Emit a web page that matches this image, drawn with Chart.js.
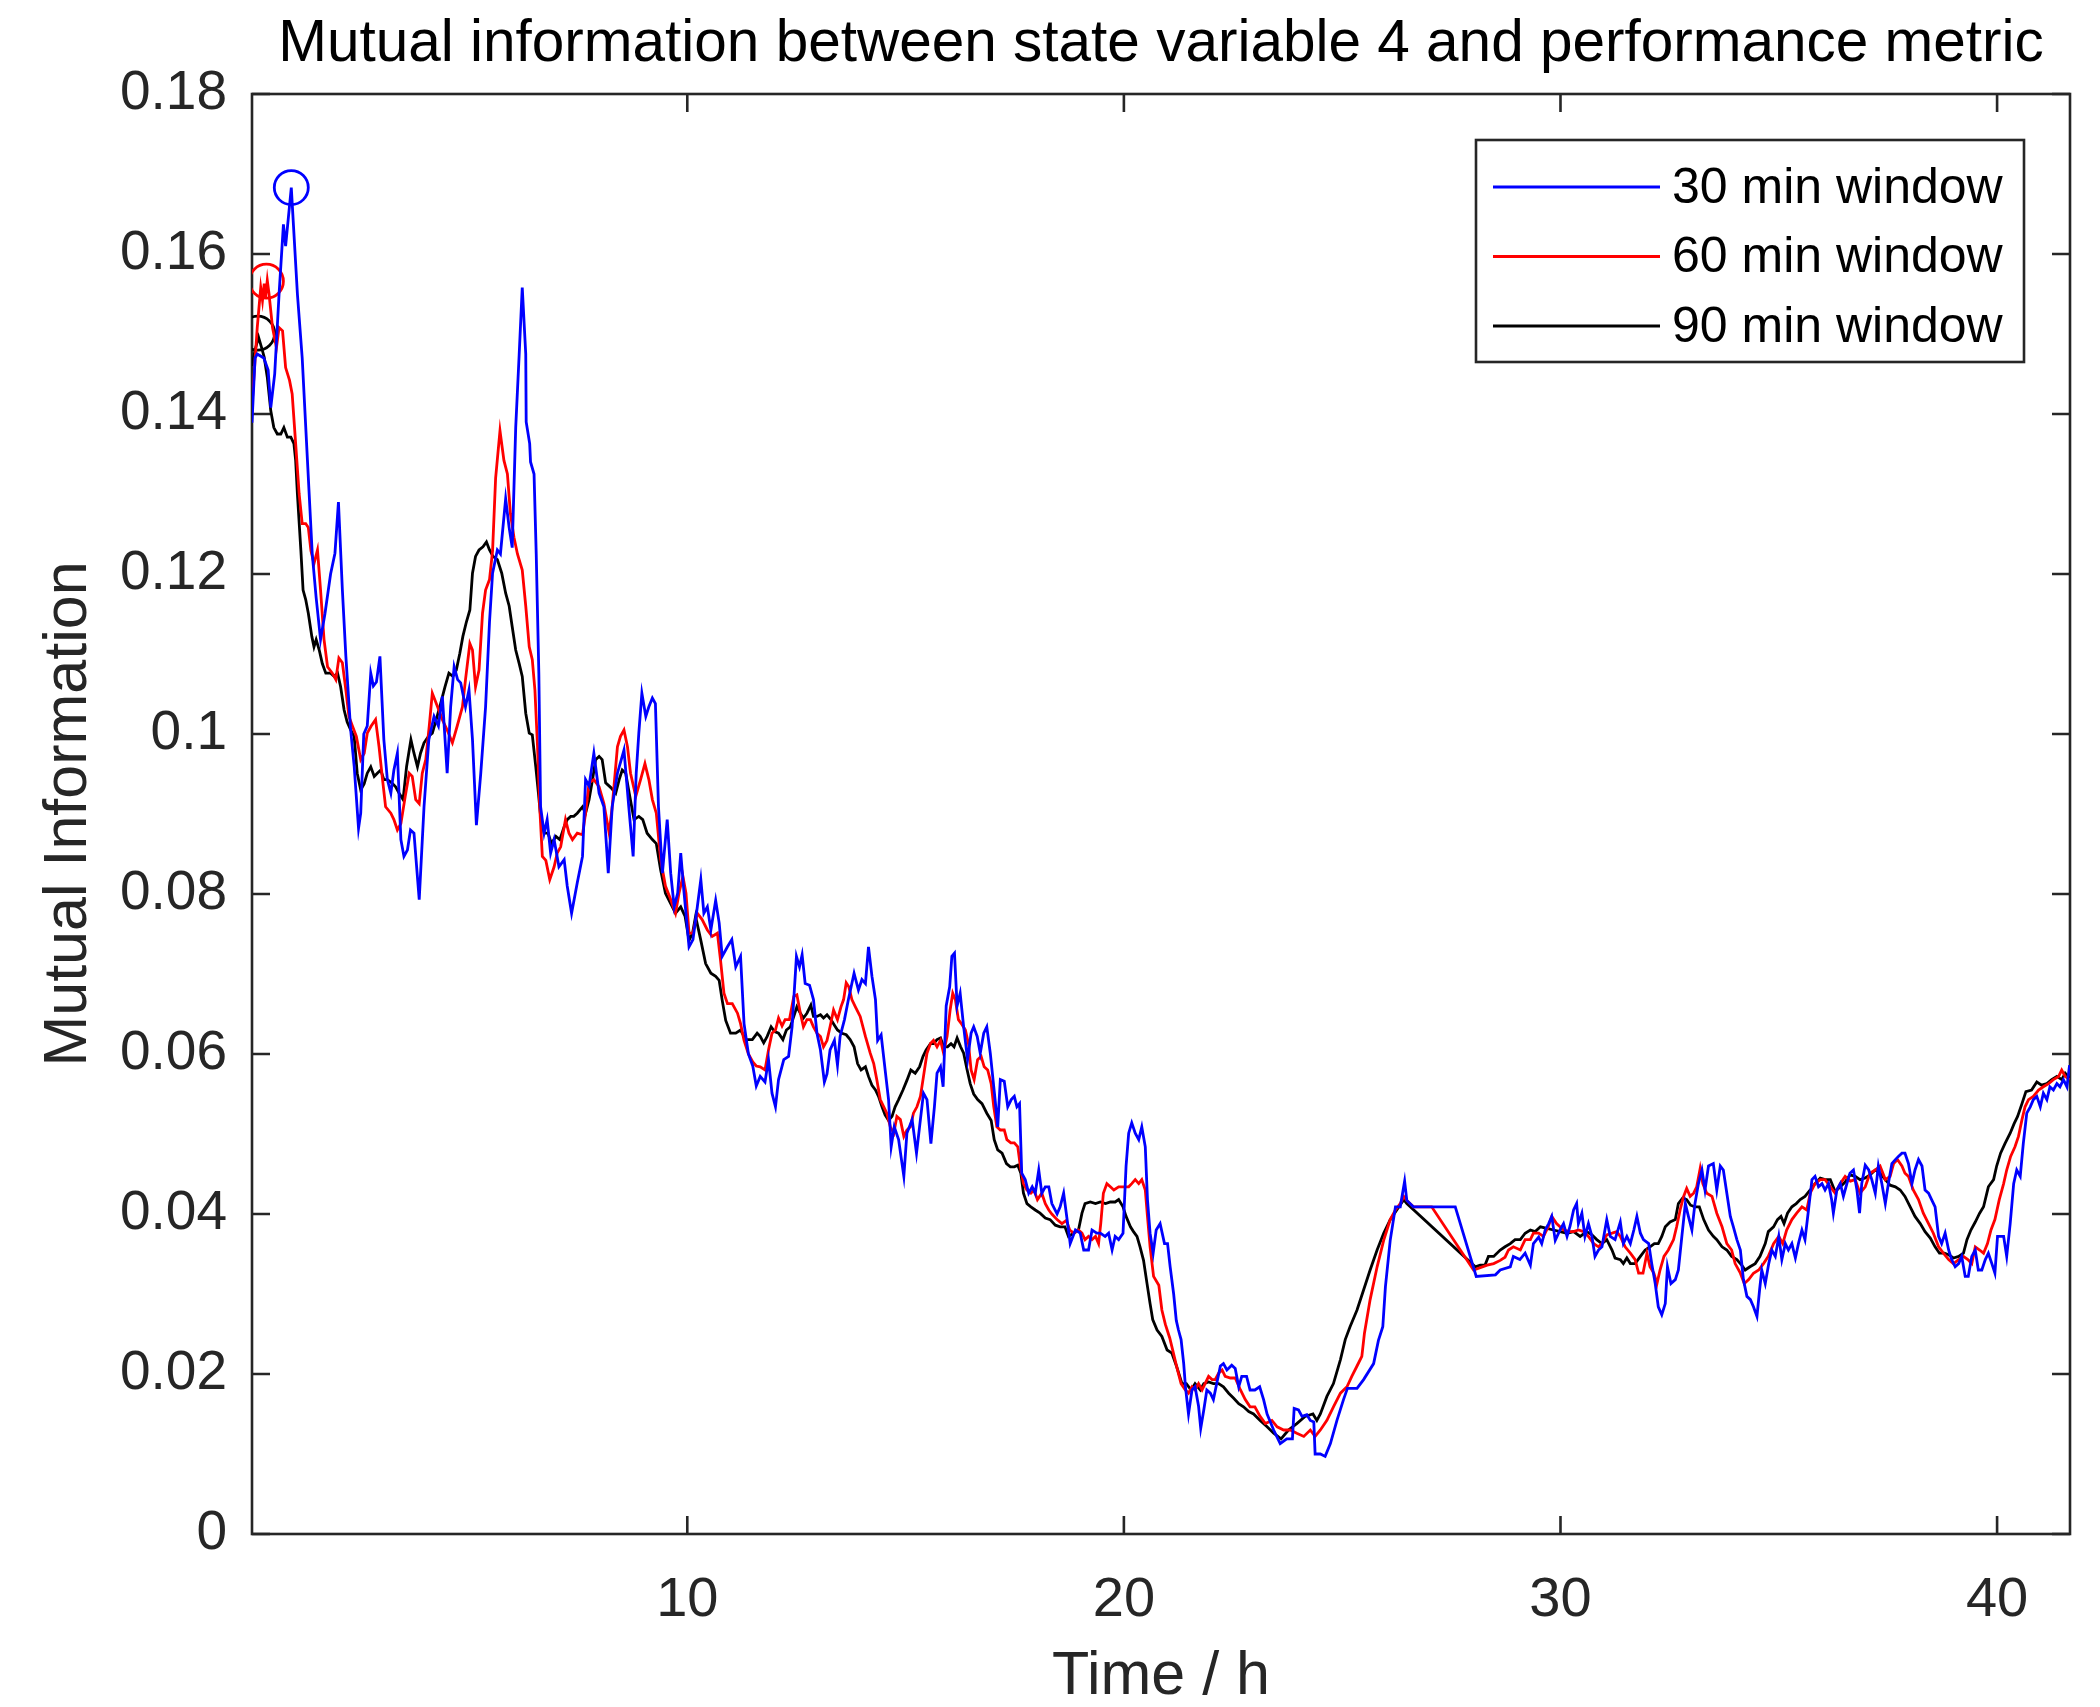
<!DOCTYPE html>
<html>
<head>
<meta charset="utf-8">
<script src="https://cdn.jsdelivr.net/npm/chart.js@4.4.1/dist/chart.umd.min.js"></script>
<style>
  html, body { margin: 0; padding: 0; background: #fff; }
  canvas { display: block; }
</style>
</head>
<body>
<canvas id="chart" width="2100" height="1707"></canvas>
<script>
const FONT = '"Liberation Sans", Arial, Helvetica, sans-serif';
const AXIS_COLOR = '#262626';

const titleText = 'Mutual information between state variable 4 and performance metric';
const xTitle = 'Time / h';
const yTitle = 'Mutual Information';
const xTicks = [10, 20, 30, 40];
const yTicks = [0, 0.02, 0.04, 0.06, 0.08, 0.1, 0.12, 0.14, 0.16, 0.18];
const seriesLabels = ['30 min window', '60 min window', '90 min window'];
const seriesColors = ['#0000ff', '#ff0000', '#000000'];

// [time in h, mutual information]
const win30 = [
  [0.03,0.1389],[0.10,0.1470],[0.15,0.1475],[0.30,0.1470],[0.40,0.1455],[0.46,0.1408],[0.55,0.1450],[0.65,0.1550],
  [0.75,0.1637],[0.80,0.1610],[0.93,0.1683],[1.07,0.1550],[1.18,0.1470],[1.30,0.1342],[1.41,0.1225],[1.50,0.1170],
  [1.60,0.1118],[1.70,0.1150],[1.83,0.1200],[1.93,0.1226],[2.01,0.1290],[2.10,0.1180],[2.18,0.1097],[2.29,0.1005],
  [2.37,0.0960],[2.47,0.0882],[2.52,0.0901],[2.59,0.1000],[2.67,0.1010],[2.75,0.1076],[2.81,0.1060],[2.88,0.1065],
  [2.96,0.1097],[3.05,0.0993],[3.13,0.0943],[3.21,0.0926],[3.28,0.0955],[3.36,0.0976],[3.44,0.0868],[3.51,0.0847],
  [3.59,0.0855],[3.66,0.0880],[3.74,0.0876],[3.86,0.0793],[3.97,0.0909],[4.08,0.0993],[4.20,0.1022],[4.30,0.1010],
  [4.39,0.1047],[4.50,0.0951],[4.58,0.1034],[4.66,0.1084],[4.74,0.1068],[4.81,0.1064],[4.92,0.1034],[5.00,0.1055],
  [5.08,0.0993],[5.17,0.0886],[5.27,0.0951],[5.38,0.1034],[5.47,0.1140],[5.54,0.1201],[5.65,0.1230],[5.72,0.1225],
  [5.84,0.1294],[5.92,0.1258],[5.99,0.1233],[6.07,0.1383],[6.15,0.1475],[6.22,0.1558],[6.30,0.1475],[6.31,0.1390],
  [6.39,0.1363],[6.41,0.1340],[6.49,0.1325],[6.54,0.1225],[6.60,0.1076],[6.64,0.0909],[6.72,0.0876],[6.79,0.0893],
  [6.87,0.0851],[6.95,0.0868],[7.06,0.0834],[7.18,0.0843],[7.25,0.0810],[7.35,0.0776],[7.48,0.0814],[7.60,0.0847],
  [7.67,0.0943],[7.75,0.0935],[7.86,0.0976],[7.98,0.0926],[8.09,0.0909],[8.19,0.0826],[8.28,0.0909],[8.40,0.0951],
  [8.55,0.0980],[8.66,0.0909],[8.76,0.0847],[8.83,0.0951],[8.89,0.1001],[8.96,0.1051],[9.05,0.1022],[9.12,0.1034],
  [9.20,0.1045],[9.27,0.1038],[9.34,0.0909],[9.43,0.0826],[9.54,0.0893],[9.62,0.0826],[9.70,0.0784],[9.78,0.0801],
  [9.85,0.0851],[9.92,0.0805],[10.04,0.0734],[10.13,0.0743],[10.23,0.0784],[10.31,0.0818],[10.38,0.0776],[10.46,0.0784],
  [10.54,0.0755],[10.65,0.0792],[10.73,0.0764],[10.80,0.0722],[10.92,0.0734],[11.02,0.0743],[11.11,0.0709],[11.22,0.0722],
  [11.30,0.0638],[11.40,0.0600],[11.50,0.0585],[11.58,0.0560],[11.67,0.0572],[11.78,0.0565],[11.86,0.0593],[11.94,0.0551],
  [12.02,0.0534],[12.09,0.0568],[12.21,0.0593],[12.32,0.0597],[12.40,0.0634],[12.50,0.0722],[12.57,0.0709],[12.63,0.0724],
  [12.70,0.0688],[12.80,0.0686],[12.89,0.0668],[12.97,0.0626],[13.05,0.0605],[13.14,0.0565],[13.20,0.0575],[13.27,0.0605],
  [13.37,0.0617],[13.44,0.0586],[13.50,0.0622],[13.60,0.0643],[13.69,0.0668],[13.82,0.0701],[13.92,0.0680],[14.00,0.0693],
  [14.08,0.0688],[14.15,0.0734],[14.23,0.0697],[14.31,0.0668],[14.36,0.0617],[14.44,0.0624],[14.54,0.0576],[14.61,0.0543],
  [14.67,0.0484],[14.74,0.0509],[14.84,0.0493],[14.96,0.0447],[15.03,0.0501],[15.15,0.0518],[15.25,0.0476],[15.32,0.0509],
  [15.41,0.0551],[15.49,0.0543],[15.58,0.0488],[15.66,0.0534],[15.72,0.0576],[15.80,0.0584],[15.86,0.0559],[15.93,0.0660],
  [16.01,0.0684],[16.06,0.0722],[16.12,0.0726],[16.18,0.0660],[16.25,0.0676],[16.33,0.0634],[16.42,0.0593],[16.50,0.0626],
  [16.56,0.0634],[16.64,0.0622],[16.71,0.0601],[16.79,0.0626],[16.86,0.0634],[16.94,0.0601],[17.05,0.0543],[17.11,0.0509],
  [17.17,0.0568],[17.26,0.0566],[17.34,0.0534],[17.42,0.0543],[17.49,0.0547],[17.55,0.0534],[17.61,0.0538],[17.66,0.0451],
  [17.74,0.0443],[17.82,0.0426],[17.90,0.0434],[17.97,0.0426],[18.05,0.0455],[18.12,0.0426],[18.20,0.0434],[18.28,0.0434],
  [18.35,0.0413],[18.47,0.0400],[18.54,0.0409],[18.62,0.0426],[18.70,0.0393],[18.77,0.0363],[18.89,0.0380],[19.00,0.0376],
  [19.08,0.0355],[19.19,0.0355],[19.27,0.0380],[19.38,0.0376],[19.46,0.0376],[19.57,0.0372],[19.65,0.0376],[19.73,0.0355],
  [19.80,0.0372],[19.88,0.0368],[19.98,0.0376],[20.05,0.0460],[20.11,0.0501],[20.18,0.0514],[20.26,0.0501],[20.34,0.0493],
  [20.41,0.0509],[20.49,0.0484],[20.54,0.0418],[20.60,0.0376],[20.67,0.0351],[20.74,0.0380],[20.83,0.0388],[20.93,0.0363],
  [21.00,0.0363],[21.06,0.0334],[21.14,0.0300],[21.20,0.0267],[21.25,0.0255],[21.31,0.0243],[21.37,0.0213],[21.41,0.0184],
  [21.48,0.0150],[21.56,0.0180],[21.63,0.0184],[21.71,0.0160],[21.76,0.0132],[21.83,0.0155],[21.90,0.0180],[21.98,0.0176],
  [22.05,0.0168],[22.13,0.0189],[22.21,0.0210],[22.28,0.0213],[22.36,0.0205],[22.47,0.0211],[22.55,0.0207],[22.63,0.0184],
  [22.70,0.0197],[22.81,0.0197],[22.89,0.0180],[23.00,0.0180],[23.11,0.0184],[23.20,0.0168],[23.28,0.0150],[23.43,0.0130],
  [23.58,0.0113],[23.73,0.0119],[23.86,0.0119],[23.90,0.0157],[24.00,0.0155],[24.08,0.0147],[24.19,0.0149],[24.27,0.0142],
  [24.35,0.0140],[24.38,0.0100],[24.50,0.0100],[24.61,0.0097],[24.73,0.0113],[24.88,0.0142],[25.03,0.0168],[25.12,0.0182],
  [25.34,0.0182],[25.49,0.0193],[25.72,0.0213],[25.83,0.0242],[25.93,0.0259],[25.99,0.0309],[26.10,0.0367],[26.22,0.0409],
  [26.33,0.0409],[26.43,0.0441],[26.48,0.0417],[26.63,0.0409],[27.59,0.0409],[28.07,0.0322],[28.51,0.0324],[28.62,0.0330],
  [28.85,0.0334],[28.92,0.0347],[29.07,0.0343],[29.19,0.0351],[29.31,0.0336],[29.38,0.0363],[29.50,0.0371],[29.57,0.0363],
  [29.65,0.0380],[29.73,0.0388],[29.80,0.0397],[29.88,0.0367],[29.99,0.0380],[30.07,0.0388],[30.15,0.0372],[30.22,0.0385],
  [30.30,0.0405],[30.37,0.0413],[30.41,0.0388],[30.49,0.0401],[30.56,0.0372],[30.64,0.0388],[30.72,0.0372],[30.79,0.0347],
  [30.87,0.0355],[30.95,0.0359],[31.06,0.0393],[31.14,0.0372],[31.25,0.0368],[31.37,0.0390],[31.44,0.0363],[31.52,0.0372],
  [31.60,0.0363],[31.68,0.0380],[31.75,0.0397],[31.83,0.0376],[31.90,0.0368],[32.02,0.0363],[32.09,0.0338],[32.17,0.0313],
  [32.24,0.0284],[32.32,0.0274],[32.40,0.0288],[32.45,0.0334],[32.53,0.0313],[32.63,0.0318],[32.70,0.0330],[32.78,0.0372],
  [32.86,0.0413],[32.93,0.0397],[33.01,0.0380],[33.08,0.0413],[33.16,0.0438],[33.24,0.0455],[33.31,0.0430],[33.39,0.0460],
  [33.50,0.0463],[33.58,0.0430],[33.66,0.0460],[33.73,0.0455],[33.81,0.0426],[33.89,0.0397],[33.96,0.0384],[34.04,0.0368],
  [34.12,0.0355],[34.19,0.0318],[34.27,0.0297],[34.35,0.0293],[34.42,0.0284],[34.50,0.0272],[34.56,0.0305],[34.61,0.0330],
  [34.69,0.0313],[34.77,0.0338],[34.84,0.0355],[34.92,0.0347],[35.00,0.0372],[35.07,0.0343],[35.15,0.0363],[35.22,0.0355],
  [35.30,0.0363],[35.38,0.0345],[35.45,0.0363],[35.53,0.0380],[35.60,0.0368],[35.68,0.0405],[35.76,0.0443],[35.83,0.0447],
  [35.91,0.0434],[35.99,0.0438],[36.06,0.0430],[36.14,0.0438],[36.21,0.0418],[36.25,0.0401],[36.33,0.0430],[36.41,0.0438],
  [36.48,0.0422],[36.56,0.0438],[36.63,0.0451],[36.71,0.0455],[36.79,0.0430],[36.85,0.0401],[36.90,0.0438],[36.98,0.0461],
  [37.06,0.0455],[37.13,0.0443],[37.21,0.0426],[37.28,0.0460],[37.36,0.0438],[37.44,0.0413],[37.51,0.0438],[37.59,0.0463],
  [37.67,0.0468],[37.74,0.0472],[37.82,0.0476],[37.89,0.0476],[37.97,0.0463],[38.05,0.0438],[38.12,0.0455],[38.20,0.0468],
  [38.28,0.0460],[38.35,0.0430],[38.43,0.0426],[38.50,0.0418],[38.58,0.0409],[38.66,0.0372],[38.73,0.0363],[38.81,0.0376],
  [38.89,0.0355],[38.96,0.0343],[39.04,0.0334],[39.12,0.0338],[39.19,0.0347],[39.27,0.0322],[39.34,0.0322],[39.42,0.0347],
  [39.50,0.0355],[39.57,0.0330],[39.65,0.0330],[39.73,0.0343],[39.80,0.0351],[39.88,0.0338],[39.95,0.0326],[40.01,0.0372],
  [40.08,0.0372],[40.15,0.0372],[40.22,0.0347],[40.30,0.0388],[40.38,0.0438],[40.45,0.0455],[40.53,0.0447],[40.60,0.0488],
  [40.68,0.0526],[40.76,0.0534],[40.83,0.0543],[40.91,0.0547],[40.99,0.0534],[41.06,0.0551],[41.14,0.0543],[41.21,0.0559],
  [41.29,0.0555],[41.37,0.0563],[41.44,0.0559],[41.52,0.0568],[41.60,0.0559],[41.66,0.0586]
];

const win60 = [
  [0.03,0.1410],[0.15,0.1508],[0.23,0.1558],[0.27,0.1542],[0.31,0.1563],[0.34,0.1546],[0.38,0.1567],[0.42,0.1550],
  [0.50,0.1508],[0.59,0.1483],[0.65,0.1508],[0.73,0.1504],[0.80,0.1458],[0.89,0.1442],[0.95,0.1425],[1.03,0.1363],
  [1.11,0.1300],[1.18,0.1263],[1.26,0.1263],[1.32,0.1258],[1.38,0.1229],[1.45,0.1213],[1.53,0.1230],[1.60,0.1180],
  [1.68,0.1118],[1.76,0.1084],[1.87,0.1076],[1.95,0.1068],[2.02,0.1095],[2.10,0.1089],[2.18,0.1055],[2.25,0.1022],
  [2.33,0.1010],[2.42,0.0997],[2.52,0.0968],[2.60,0.0976],[2.67,0.1001],[2.76,0.1010],[2.86,0.1018],[2.94,0.0984],
  [3.02,0.0943],[3.09,0.0909],[3.21,0.0901],[3.28,0.0893],[3.36,0.0880],[3.44,0.0888],[3.54,0.0922],[3.63,0.0951],
  [3.70,0.0947],[3.78,0.0918],[3.86,0.0913],[3.93,0.0951],[4.01,0.0968],[4.09,0.1010],[4.16,0.1051],[4.28,0.1034],
  [4.39,0.1018],[4.50,0.1005],[4.62,0.0989],[4.73,0.1010],[4.85,0.1034],[4.92,0.1068],[5.02,0.1113],[5.08,0.1105],
  [5.15,0.1059],[5.23,0.1080],[5.31,0.1151],[5.38,0.1180],[5.47,0.1193],[5.54,0.1229],[5.61,0.1320],[5.71,0.1379],
  [5.80,0.1342],[5.88,0.1325],[5.95,0.1275],[6.03,0.1246],[6.11,0.1225],[6.22,0.1205],[6.30,0.1160],[6.38,0.1109],
  [6.45,0.1093],[6.51,0.1055],[6.57,0.0984],[6.62,0.0909],[6.68,0.0847],[6.76,0.0842],[6.85,0.0818],[6.95,0.0834],
  [7.02,0.0851],[7.10,0.0859],[7.21,0.0893],[7.29,0.0876],[7.37,0.0868],[7.48,0.0876],[7.60,0.0874],[7.67,0.0901],
  [7.75,0.0939],[7.86,0.0943],[7.98,0.0934],[8.09,0.0913],[8.21,0.0876],[8.28,0.0909],[8.40,0.0984],[8.47,0.0997],
  [8.55,0.1005],[8.63,0.0984],[8.70,0.0951],[8.82,0.0922],[8.93,0.0943],[9.03,0.0963],[9.12,0.0943],[9.20,0.0918],
  [9.29,0.0901],[9.39,0.0843],[9.50,0.0810],[9.62,0.0793],[9.73,0.0776],[9.81,0.0801],[9.90,0.0822],[9.97,0.0801],
  [10.04,0.0751],[10.13,0.0751],[10.23,0.0776],[10.34,0.0768],[10.46,0.0755],[10.57,0.0747],[10.69,0.0751],[10.76,0.0718],
  [10.84,0.0676],[10.92,0.0663],[11.03,0.0663],[11.15,0.0651],[11.22,0.0638],[11.30,0.0617],[11.40,0.0600],[11.50,0.0590],
  [11.58,0.0585],[11.67,0.0584],[11.78,0.0580],[11.86,0.0605],[11.94,0.0626],[12.02,0.0630],[12.09,0.0645],[12.17,0.0635],
  [12.24,0.0643],[12.34,0.0643],[12.44,0.0672],[12.51,0.0674],[12.59,0.0651],[12.66,0.0634],[12.74,0.0643],[12.82,0.0643],
  [12.89,0.0634],[12.97,0.0626],[13.05,0.0622],[13.12,0.0609],[13.20,0.0617],[13.27,0.0634],[13.35,0.0655],[13.44,0.0643],
  [13.52,0.0659],[13.58,0.0668],[13.64,0.0689],[13.70,0.0684],[13.77,0.0668],[13.85,0.0659],[13.96,0.0647],[14.08,0.0622],
  [14.19,0.0601],[14.27,0.0588],[14.34,0.0568],[14.42,0.0543],[14.50,0.0534],[14.57,0.0526],[14.65,0.0509],[14.73,0.0501],
  [14.80,0.0522],[14.88,0.0518],[14.96,0.0497],[15.03,0.0505],[15.11,0.0509],[15.18,0.0526],[15.26,0.0534],[15.34,0.0547],
  [15.41,0.0572],[15.49,0.0601],[15.57,0.0613],[15.64,0.0617],[15.72,0.0609],[15.80,0.0617],[15.87,0.0601],[15.95,0.0622],
  [16.02,0.0655],[16.08,0.0676],[16.14,0.0668],[16.21,0.0643],[16.29,0.0637],[16.37,0.0630],[16.44,0.0613],[16.50,0.0580],
  [16.57,0.0568],[16.65,0.0593],[16.73,0.0597],[16.80,0.0584],[16.88,0.0580],[16.96,0.0563],[17.02,0.0534],[17.09,0.0509],
  [17.17,0.0505],[17.26,0.0505],[17.32,0.0493],[17.41,0.0489],[17.49,0.0489],[17.57,0.0484],[17.63,0.0459],[17.70,0.0438],
  [17.78,0.0430],[17.87,0.0426],[17.94,0.0430],[18.02,0.0418],[18.12,0.0426],[18.20,0.0413],[18.28,0.0405],[18.35,0.0400],
  [18.47,0.0393],[18.58,0.0388],[18.68,0.0392],[18.76,0.0380],[18.85,0.0376],[18.96,0.0380],[19.04,0.0376],[19.11,0.0368],
  [19.19,0.0372],[19.27,0.0368],[19.35,0.0372],[19.42,0.0363],[19.47,0.0388],[19.53,0.0426],[19.61,0.0438],[19.69,0.0434],
  [19.77,0.0430],[19.88,0.0434],[19.99,0.0434],[20.11,0.0434],[20.18,0.0438],[20.26,0.0443],[20.34,0.0438],[20.41,0.0443],
  [20.49,0.0430],[20.54,0.0397],[20.60,0.0359],[20.68,0.0322],[20.80,0.0311],[20.87,0.0280],[20.95,0.0262],[21.05,0.0245],
  [21.10,0.0234],[21.21,0.0209],[21.31,0.0188],[21.41,0.0180],[21.48,0.0176],[21.56,0.0184],[21.63,0.0180],[21.71,0.0188],
  [21.79,0.0180],[21.86,0.0188],[21.94,0.0197],[22.02,0.0193],[22.09,0.0193],[22.17,0.0201],[22.25,0.0205],[22.32,0.0197],
  [22.44,0.0195],[22.55,0.0195],[22.67,0.0180],[22.78,0.0168],[22.89,0.0159],[23.00,0.0159],[23.12,0.0147],[23.24,0.0138],
  [23.39,0.0142],[23.51,0.0134],[23.66,0.0130],[23.81,0.0130],[23.96,0.0126],[24.12,0.0122],[24.27,0.0130],[24.38,0.0122],
  [24.50,0.0130],[24.65,0.0142],[24.80,0.0159],[24.96,0.0176],[25.11,0.0184],[25.22,0.0197],[25.34,0.0210],[25.45,0.0222],
  [25.51,0.0251],[25.64,0.0293],[25.80,0.0334],[25.95,0.0367],[26.10,0.0393],[26.22,0.0405],[26.33,0.0413],[26.41,0.0422],
  [26.48,0.0417],[26.63,0.0409],[27.05,0.0409],[28.01,0.0330],[28.32,0.0336],[28.47,0.0338],[28.62,0.0342],[28.73,0.0346],
  [28.81,0.0355],[28.92,0.0359],[29.08,0.0355],[29.19,0.0368],[29.31,0.0368],[29.38,0.0376],[29.50,0.0376],[29.61,0.0372],
  [29.72,0.0384],[29.80,0.0397],[29.91,0.0388],[30.07,0.0380],[30.22,0.0378],[30.30,0.0378],[30.41,0.0380],[30.53,0.0378],
  [30.64,0.0372],[30.76,0.0363],[30.87,0.0359],[30.95,0.0363],[31.06,0.0374],[31.18,0.0376],[31.29,0.0378],[31.37,0.0372],
  [31.48,0.0359],[31.60,0.0351],[31.71,0.0343],[31.79,0.0326],[31.89,0.0326],[31.98,0.0351],[32.05,0.0334],[32.14,0.0326],
  [32.21,0.0313],[32.28,0.0330],[32.37,0.0347],[32.47,0.0355],[32.59,0.0368],[32.66,0.0384],[32.74,0.0405],[32.82,0.0422],
  [32.89,0.0432],[32.97,0.0422],[33.05,0.0426],[33.12,0.0434],[33.20,0.0457],[33.26,0.0438],[33.35,0.0426],[33.47,0.0422],
  [33.58,0.0401],[33.70,0.0384],[33.81,0.0363],[33.92,0.0355],[34.00,0.0338],[34.12,0.0326],[34.21,0.0313],[34.31,0.0318],
  [34.42,0.0326],[34.54,0.0330],[34.65,0.0338],[34.76,0.0347],[34.88,0.0363],[35.00,0.0372],[35.09,0.0363],[35.18,0.0380],
  [35.30,0.0393],[35.41,0.0401],[35.53,0.0409],[35.64,0.0405],[35.72,0.0426],[35.83,0.0438],[35.95,0.0443],[36.06,0.0443],
  [36.18,0.0434],[36.29,0.0426],[36.41,0.0438],[36.52,0.0447],[36.64,0.0441],[36.75,0.0443],[36.86,0.0426],[36.98,0.0434],
  [37.09,0.0451],[37.21,0.0455],[37.32,0.0460],[37.44,0.0443],[37.55,0.0447],[37.63,0.0463],[37.72,0.0468],[37.82,0.0460],
  [37.89,0.0451],[37.97,0.0447],[38.08,0.0430],[38.20,0.0418],[38.31,0.0401],[38.43,0.0388],[38.54,0.0376],[38.66,0.0359],
  [38.77,0.0351],[38.89,0.0343],[39.00,0.0338],[39.12,0.0343],[39.23,0.0347],[39.33,0.0343],[39.42,0.0338],[39.50,0.0359],
  [39.60,0.0355],[39.69,0.0351],[39.78,0.0363],[39.86,0.0380],[39.95,0.0393],[40.05,0.0418],[40.15,0.0438],[40.22,0.0455],
  [40.31,0.0472],[40.41,0.0484],[40.49,0.0497],[40.57,0.0518],[40.64,0.0534],[40.72,0.0543],[40.83,0.0547],[40.95,0.0555],
  [41.06,0.0559],[41.18,0.0563],[41.29,0.0568],[41.41,0.0572],[41.48,0.0580],[41.56,0.0572],[41.66,0.0568]
];

const win90 = [
  [0.03,0.1460],[0.10,0.1480],[0.18,0.1496],[0.25,0.1483],[0.31,0.1471],[0.38,0.1446],[0.46,0.1404],[0.53,0.1383],
  [0.61,0.1375],[0.69,0.1375],[0.76,0.1383],[0.84,0.1371],[0.92,0.1371],[0.99,0.1363],[1.03,0.1342],[1.07,0.1300],
  [1.15,0.1229],[1.20,0.1180],[1.26,0.1168],[1.32,0.1151],[1.40,0.1122],[1.45,0.1109],[1.50,0.1118],[1.57,0.1105],
  [1.64,0.1088],[1.72,0.1076],[1.83,0.1076],[1.91,0.1072],[1.99,0.1076],[2.06,0.1059],[2.14,0.1030],[2.21,0.1015],
  [2.29,0.1005],[2.37,0.0997],[2.44,0.0951],[2.52,0.0930],[2.60,0.0938],[2.67,0.0951],[2.75,0.0959],[2.83,0.0947],
  [2.90,0.0951],[2.98,0.0955],[3.05,0.0943],[3.13,0.0943],[3.23,0.0939],[3.32,0.0934],[3.40,0.0926],[3.49,0.0918],
  [3.57,0.0959],[3.67,0.0993],[3.74,0.0976],[3.82,0.0959],[3.89,0.0976],[3.97,0.0989],[4.07,0.0997],[4.16,0.1001],
  [4.25,0.1018],[4.35,0.1038],[4.45,0.1059],[4.54,0.1076],[4.63,0.1072],[4.71,0.1080],[4.79,0.1101],[4.86,0.1122],
  [4.94,0.1140],[5.02,0.1155],[5.08,0.1201],[5.15,0.1222],[5.23,0.1230],[5.32,0.1234],[5.40,0.1240],[5.47,0.1230],
  [5.55,0.1222],[5.65,0.1218],[5.75,0.1201],[5.84,0.1176],[5.92,0.1160],[5.99,0.1134],[6.07,0.1105],[6.15,0.1088],
  [6.22,0.1072],[6.30,0.1026],[6.38,0.1001],[6.45,0.0999],[6.53,0.0959],[6.59,0.0926],[6.64,0.0897],[6.72,0.0876],
  [6.81,0.0876],[6.89,0.0863],[6.99,0.0872],[7.08,0.0868],[7.18,0.0884],[7.25,0.0893],[7.33,0.0897],[7.40,0.0897],
  [7.48,0.0901],[7.60,0.0909],[7.67,0.0901],[7.75,0.0918],[7.83,0.0943],[7.90,0.0968],[7.98,0.0972],[8.05,0.0968],
  [8.13,0.0939],[8.25,0.0933],[8.36,0.0926],[8.44,0.0943],[8.51,0.0955],[8.59,0.0951],[8.67,0.0926],[8.78,0.0893],
  [8.89,0.0897],[8.98,0.0893],[9.08,0.0876],[9.20,0.0868],[9.29,0.0863],[9.39,0.0830],[9.50,0.0801],[9.62,0.0788],
  [9.73,0.0776],[9.85,0.0784],[9.95,0.0772],[10.04,0.0742],[10.12,0.0751],[10.19,0.0772],[10.31,0.0742],[10.42,0.0713],
  [10.54,0.0701],[10.65,0.0697],[10.73,0.0692],[10.80,0.0667],[10.88,0.0642],[10.99,0.0626],[11.11,0.0626],[11.22,0.0630],
  [11.34,0.0618],[11.49,0.0618],[11.60,0.0626],[11.67,0.0622],[11.75,0.0614],[11.83,0.0622],[11.92,0.0634],[12.00,0.0628],
  [12.09,0.0626],[12.19,0.0618],[12.27,0.0630],[12.36,0.0634],[12.44,0.0647],[12.51,0.0659],[12.59,0.0651],[12.66,0.0645],
  [12.74,0.0651],[12.83,0.0661],[12.89,0.0647],[12.97,0.0647],[13.05,0.0649],[13.12,0.0645],[13.20,0.0649],[13.29,0.0643],
  [13.37,0.0636],[13.44,0.0630],[13.54,0.0626],[13.64,0.0624],[13.73,0.0618],[13.82,0.0609],[13.90,0.0588],[13.98,0.0580],
  [14.08,0.0584],[14.15,0.0572],[14.23,0.0561],[14.31,0.0555],[14.38,0.0547],[14.46,0.0534],[14.53,0.0524],[14.61,0.0517],
  [14.69,0.0522],[14.76,0.0534],[14.84,0.0543],[14.94,0.0555],[15.03,0.0567],[15.12,0.0580],[15.22,0.0576],[15.32,0.0584],
  [15.40,0.0597],[15.47,0.0605],[15.57,0.0613],[15.64,0.0613],[15.72,0.0618],[15.80,0.0620],[15.87,0.0609],[15.96,0.0609],
  [16.04,0.0613],[16.11,0.0609],[16.18,0.0620],[16.26,0.0609],[16.33,0.0601],[16.41,0.0580],[16.48,0.0563],[16.56,0.0550],
  [16.65,0.0543],[16.75,0.0538],[16.86,0.0526],[16.96,0.0517],[17.03,0.0493],[17.11,0.0480],[17.21,0.0476],[17.31,0.0463],
  [17.40,0.0459],[17.49,0.0459],[17.57,0.0461],[17.64,0.0451],[17.70,0.0426],[17.78,0.0413],[17.87,0.0409],[17.97,0.0405],
  [18.08,0.0401],[18.20,0.0395],[18.31,0.0393],[18.43,0.0386],[18.54,0.0384],[18.65,0.0384],[18.73,0.0372],[18.85,0.0376],
  [18.96,0.0380],[19.04,0.0401],[19.11,0.0413],[19.23,0.0415],[19.35,0.0413],[19.46,0.0415],[19.58,0.0413],[19.69,0.0415],
  [19.80,0.0415],[19.88,0.0418],[19.98,0.0409],[20.05,0.0397],[20.15,0.0384],[20.22,0.0378],[20.30,0.0372],[20.37,0.0359],
  [20.45,0.0342],[20.53,0.0313],[20.60,0.0288],[20.66,0.0268],[20.76,0.0255],[20.87,0.0247],[20.99,0.0230],[21.10,0.0226],
  [21.21,0.0209],[21.33,0.0188],[21.43,0.0188],[21.54,0.0180],[21.63,0.0188],[21.75,0.0180],[21.83,0.0188],[21.94,0.0190],
  [22.05,0.0188],[22.17,0.0188],[22.28,0.0184],[22.40,0.0176],[22.51,0.0170],[22.63,0.0163],[22.74,0.0159],[22.86,0.0153],
  [22.97,0.0150],[23.12,0.0142],[23.28,0.0134],[23.43,0.0126],[23.60,0.0119],[23.77,0.0130],[23.96,0.0138],[24.15,0.0147],
  [24.33,0.0150],[24.42,0.0142],[24.50,0.0150],[24.65,0.0172],[24.80,0.0188],[24.96,0.0218],[25.07,0.0243],[25.18,0.0259],
  [25.34,0.0280],[25.49,0.0305],[25.64,0.0330],[25.80,0.0355],[25.95,0.0376],[26.10,0.0393],[26.25,0.0405],[26.41,0.0418],
  [26.48,0.0413],[28.05,0.0334],[28.16,0.0336],[28.27,0.0336],[28.35,0.0347],[28.47,0.0347],[28.62,0.0355],[28.73,0.0359],
  [28.85,0.0363],[28.96,0.0368],[29.08,0.0368],[29.19,0.0376],[29.31,0.0380],[29.42,0.0378],[29.54,0.0384],[29.69,0.0382],
  [29.84,0.0380],[29.99,0.0378],[30.15,0.0376],[30.30,0.0378],[30.45,0.0372],[30.60,0.0378],[30.72,0.0374],[30.83,0.0368],
  [30.95,0.0363],[31.06,0.0368],[31.18,0.0355],[31.25,0.0345],[31.37,0.0343],[31.44,0.0338],[31.52,0.0345],[31.60,0.0338],
  [31.71,0.0338],[31.83,0.0347],[31.94,0.0355],[32.05,0.0359],[32.15,0.0363],[32.24,0.0363],[32.32,0.0372],[32.40,0.0384],
  [32.51,0.0390],[32.63,0.0393],[32.70,0.0413],[32.80,0.0420],[32.89,0.0418],[32.98,0.0411],[33.08,0.0409],[33.18,0.0409],
  [33.28,0.0393],[33.39,0.0380],[33.50,0.0372],[33.58,0.0368],[33.70,0.0359],[33.81,0.0355],[33.92,0.0347],[34.04,0.0343],
  [34.15,0.0336],[34.23,0.0330],[34.34,0.0334],[34.46,0.0338],[34.57,0.0347],[34.69,0.0363],[34.76,0.0378],[34.88,0.0384],
  [34.97,0.0393],[35.05,0.0397],[35.12,0.0388],[35.20,0.0401],[35.30,0.0409],[35.40,0.0413],[35.49,0.0418],[35.60,0.0422],
  [35.72,0.0430],[35.83,0.0438],[35.95,0.0445],[36.06,0.0443],[36.18,0.0443],[36.29,0.0428],[36.41,0.0434],[36.52,0.0440],
  [36.63,0.0449],[36.75,0.0447],[36.86,0.0443],[36.98,0.0445],[37.09,0.0449],[37.21,0.0455],[37.32,0.0451],[37.44,0.0443],
  [37.55,0.0436],[37.67,0.0434],[37.78,0.0430],[37.89,0.0422],[38.01,0.0409],[38.12,0.0397],[38.24,0.0388],[38.35,0.0378],
  [38.47,0.0370],[38.58,0.0359],[38.68,0.0351],[38.79,0.0351],[38.89,0.0349],[39.00,0.0345],[39.12,0.0347],[39.23,0.0351],
  [39.31,0.0368],[39.40,0.0380],[39.50,0.0390],[39.60,0.0401],[39.69,0.0409],[39.80,0.0434],[39.92,0.0443],[39.99,0.0460],
  [40.08,0.0476],[40.18,0.0488],[40.30,0.0501],[40.39,0.0513],[40.47,0.0522],[40.57,0.0538],[40.66,0.0553],[40.79,0.0555],
  [40.91,0.0565],[41.02,0.0561],[41.14,0.0563],[41.25,0.0568],[41.37,0.0572],[41.48,0.0568],[41.56,0.0576],[41.66,0.0570]
];

// maximum of each series, marked with a circle
const peaks = [[0.93, 0.1683], [0.36, 0.1566], [0.16, 0.1501]];

const toXY = arr => arr.map(([x, y]) => ({ x, y }));
const series = [win30, win60, win90];

const lineSets = series.map((s, i) => ({
  type: 'line',
  label: seriesLabels[i],
  data: toXY(s),
  borderColor: seriesColors[i],
  borderWidth: 2.8,
  pointRadius: 0,
  fill: false,
  tension: 0
}));

const peakSets = peaks.map((p, i) => ({
  type: 'scatter',
  label: 'peak ' + seriesLabels[i],
  data: toXY([p]),
  borderColor: seriesColors[i],
  backgroundColor: 'rgba(0,0,0,0)',
  pointRadius: 17,
  pointBorderWidth: 2.8,
  showLine: false
}));

// box around the axes with inward ticks on all four sides (MATLAB style)
const axesBox = {
  id: 'axesBox',
  beforeDatasetsDraw(chart) {
    const { ctx, chartArea: a, scales: { x, y } } = chart;
    const len = 18;
    ctx.save();
    ctx.strokeStyle = AXIS_COLOR;
    ctx.lineWidth = 2.6;
    ctx.beginPath();
    xTicks.forEach(v => {
      const px = x.getPixelForValue(v);
      ctx.moveTo(px, a.bottom); ctx.lineTo(px, a.bottom - len);
      ctx.moveTo(px, a.top); ctx.lineTo(px, a.top + len);
    });
    yTicks.forEach(v => {
      const py = y.getPixelForValue(v);
      ctx.moveTo(a.left, py); ctx.lineTo(a.left + len, py);
      ctx.moveTo(a.right, py); ctx.lineTo(a.right - len, py);
    });
    ctx.stroke();
    ctx.strokeRect(a.left, a.top, a.right - a.left, a.bottom - a.top);
    ctx.restore();
  }
};

const boxLegend = {
  id: 'boxLegend',
  afterDatasetsDraw(chart) {
    const { ctx, chartArea: a } = chart;
    const w = 548, h = 222;
    const left = a.right - 46 - w, top = a.top + 46;
    ctx.save();
    ctx.fillStyle = '#fff';
    ctx.fillRect(left, top, w, h);
    ctx.strokeStyle = AXIS_COLOR;
    ctx.lineWidth = 2.6;
    ctx.strokeRect(left, top, w, h);
    ctx.font = '50px ' + FONT;
    ctx.textBaseline = 'middle';
    ctx.fillStyle = '#000';
    seriesLabels.forEach((lab, i) => {
      const yy = top + 47 + i * 69.5;
      ctx.strokeStyle = seriesColors[i];
      ctx.lineWidth = 2.8;
      ctx.beginPath();
      ctx.moveTo(left + 17, yy);
      ctx.lineTo(left + 184, yy);
      ctx.stroke();
      ctx.fillText(lab, left + 196, yy + 2);
    });
    ctx.restore();
  }
};

new Chart(document.getElementById('chart'), {
  data: { datasets: [...lineSets, ...peakSets] },
  options: {
    responsive: false,
    animation: false,
    devicePixelRatio: 1,
    layout: { padding: { left: 0, right: 30, top: 0, bottom: 0 } },
    plugins: {
      legend: { display: false },
      tooltip: { enabled: false },
      title: {
        display: true,
        text: titleText,
        color: '#000',
        fullSize: false,
        font: { family: FONT, size: 58.5, weight: 'normal', lineHeight: 1.2 },
        padding: { top: 10, bottom: 13.8 }
      }
    },
    scales: {
      x: {
        type: 'linear',
        min: 0.03,
        max: 41.67,
        grid: { display: false },
        border: { display: false },
        afterBuildTicks: s => { s.ticks = xTicks.map(value => ({ value })); },
        afterFit: s => { s.height = 173; },
        ticks: {
          autoSkip: false,
          maxRotation: 0,
          padding: 25,
          color: AXIS_COLOR,
          font: { family: FONT, size: 56 }
        },
        title: {
          display: true,
          text: xTitle,
          color: AXIS_COLOR,
          font: { family: FONT, size: 61, lineHeight: 1.15 },
          padding: { top: 0, bottom: -5 }
        }
      },
      y: {
        type: 'linear',
        min: 0,
        max: 0.18,
        grid: { display: false },
        border: { display: false },
        afterBuildTicks: s => { s.ticks = yTicks.map(value => ({ value })); },
        afterFit: s => { s.width = 252; },
        ticks: {
          autoSkip: false,
          padding: 17,
          color: AXIS_COLOR,
          font: { family: FONT, size: 55 },
          callback: v => String(+v.toFixed(2))
        },
        title: {
          display: true,
          text: yTitle,
          color: AXIS_COLOR,
          font: { family: FONT, size: 61, lineHeight: 1.2 },
          padding: { top: 33, bottom: 0 }
        }
      }
    }
  },
  plugins: [axesBox, boxLegend]
});
</script>
</body>
</html>
